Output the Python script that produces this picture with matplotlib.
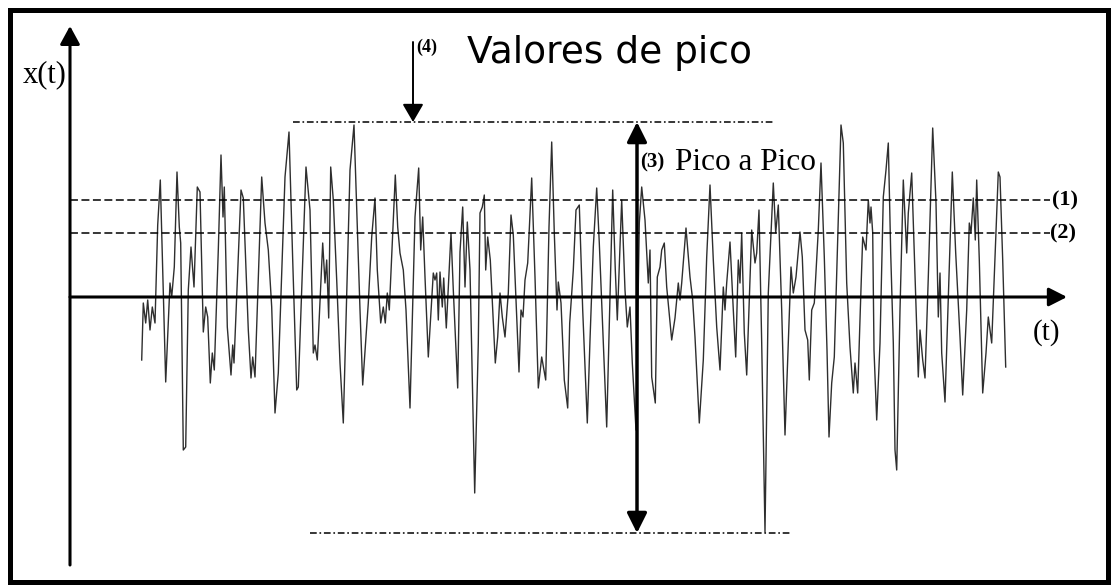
import numpy as np
import matplotlib.pyplot as plt
from matplotlib.patches import Rectangle

# ------------------------------------------------------------------
#  Vibration record x(t): time samples and amplitudes (arbitrary units)
# ------------------------------------------------------------------
t = [71.7, 73.3, 75.7, 77.7, 80, 82.3, 85, 87.7, 90.3, 95.7, 100, 101.7, 104.3,
     107, 109.3, 110.7, 113.3, 115.7, 118.3, 121, 124, 127.3, 130, 133.3, 135.7,
     137.7, 140.3, 142.3, 144.3, 148.3, 151, 153, 154.3, 157.3, 161, 162.7, 164,
     171, 173.3, 178.3, 181, 182.7, 185, 191.7, 195, 198.3, 201.7, 205, 208.3,
     215, 219, 222.7, 226.7, 228.3, 236, 240, 243.3, 245, 247.3, 252.7, 255,
     256.7, 258.7, 260.7, 263.3, 266.7, 270, 273.3, 280, 284, 287.3, 290, 292.7,
     298.3, 301.7, 305, 307.3, 310.7, 313.3, 315.3, 317.3, 319.3, 325.3, 327.7,
     330, 333.3, 336, 340, 345, 348.7, 350.7, 352.7, 355, 358.3,
     363.3, 365, 366.7, 368.3, 370, 372.3, 373.7, 376.3, 381, 383.3, 387.7, 390,
     392.7, 395, 397.3, 400, 404.7, 408.3, 410, 412.3, 414.3, 415.7, 417.7,
     420.3, 425.3, 427.7, 430, 432.3, 435, 438.3, 441, 443.3, 449, 451, 453,
     455, 457.7, 461.7, 465, 468.3, 471.7, 475.7, 479, 481.7, 484.3, 487, 488.3,
     491, 494.3, 497.7, 499.7,
     503.3, 506, 509.3, 512.7, 517.3, 520, 523.3, 526.7, 529.3, 536.7, 540,
     542.7, 545.3, 547.3, 551.7, 555, 557.3, 560, 562.3, 566, 569.3, 571.7, 575,
     578.3, 580, 581.7, 585.3, 587.3, 590, 591.7, 594.3, 596.7, 601.7, 605,
     608.3, 610, 611.7, 616, 620, 622.7, 625, 629.3, 633.3, 636.7, 640, 643.3,
     646.7, 650,
     653.3, 655, 656.7, 660, 663.3, 665.7, 668.3, 670, 671.7, 674.3, 676.7,
     681.7, 685, 686.7, 689, 691.7, 695, 698.3, 703.3, 705.7, 708.3, 711.7, 715,
     718.3, 721, 723.3, 726, 730, 732.3, 735, 737.7, 739.3, 741.7, 744.3, 748.3,
     751, 754.3, 757, 759, 761.7, 764.3, 768.3, 771, 773.3, 776.7, 780, 783.3,
     785, 787.7, 790.3,
     792.7, 796, 798.3, 800, 801, 802.7, 804, 806.7, 810, 813.3, 816, 818.3,
     820.7, 823.3, 825, 826.7, 830, 833.3, 836.7, 838.3, 841.7, 844, 848.3, 850,
     852.7, 855, 858.3, 862.7, 866, 868.3, 870, 871.7, 875, 878.3, 882.3, 885.7,
     890, 892.7, 896.7, 899.3, 901, 903.3, 905.3, 906.7, 909.3, 912.7, 916,
     918.3, 921.7, 928.3, 930, 932.7, 935.7]

x = [-63, -6, -26, -3, -33, -10, -26, 72, 117, -85, 14, 0, 30,
     125, 70, 54, -153, -150, 7, 50, 10, 110, 105, -35, -10,
     -20, -86, -56, -73, 47, 142, 80, 110, -30, -78, -48, -66,
     107, 99, -33, -81, -60, -80, 120, 74, 47, -10, -116, -76,
     120, 165, 37, -93, -90, 130, 87, -56, -48, -63, 54, 14,
     37, -21, 130, 97, 17, -66, -126, 127, 172, 70, -13, -88,
     -6, 60, 99, 27, -26, -10, -26, 4, -13, 122, 70,
     44, 27, -13, -111, 80, 129, 47, 80, 20, -60,
     24, 17, 24, -23, 25, -10, 19, -31, 64, 7, -91, 45,
     90, 10, 75, 27, -196, -46, 84, 90, 102, 27, 60,
     37, -66, -40, 4, -20, -40, 4, 82, 62, -75, -13, -20,
     17, 34, 119, 20, -91, -60, -83, 70, 155, 64, -13, 15,
     -6, -83, -111, -26,
     27, 87, 92, -13, -126, -43, 50, 109, 54, -130, 0,
     107, 27, -23, 97, 7, -30, -10, -66, -133, 74, 110, 77,
     14, 47, -80, -106, 20, 30, 47, 54, 10, -43, -21,
     14, -3, 14, 69, 20, -3, -40, -126, -63, 40, 112, 37,
     -30, -73,
     10, -13, 14, 55, -13, -60, 37, 14, 64, -36, -78,
     67, 34, 44, 87, -46, -235, 4, 114, 64, 92, -13, -138,
     -46, 30, 4, 20, 65, 40, -33, -43, -83, -13, -6, 67,
     134, 40, -53, -140, -86, -60, 80, 172, 154, 14, -50, -96,
     -66, -96, -13,
     60, 47, 97, 74, 90, 64, -53, -123, -46, 100, 127, 154,
     44, -46, -153, -173, -13, 117, 44, 84, 124, 54, -80, -33,
     -63, -81, 20, 169, 94, -20, 24, -56, -105, 0, 125, 44,
     -40, -98, -13, 74, 64, 99, 57, 117, 37, -96, -56,
     -20, -46, 125, 120, 37, -70]

# reference levels (1) and (2), peak levels (dash-dot)
levels = [97, 64]
level_labels = ['(1)', '(2)']
peak_hi = 175
peak_lo = -236

t = np.array(t)
x = np.array(x)

# ------------------------------------------------------------------
fig = plt.figure(figsize=(11.13, 5.85), dpi=100)
ax = fig.add_axes([0, 0, 1, 1])
ax.set_xlim(-70, 1043)
ax.set_ylim(-288, 297)
ax.axis('off')

# outer frame
ax.add_patch(Rectangle((-60, -285), 1098, 572, fill=False, lw=3.6,
                       edgecolor='black', zorder=5))

# signal
ax.plot(t, x, color='#2e2e2e', lw=1.0, zorder=2)

# RMS-type levels
for lev in levels:
    ax.plot([0, 980], [lev, lev], color='black', lw=1.1,
            ls=(0, (5.2, 2.3)), zorder=3)
ax.text(982, levels[0], level_labels[0], fontsize=16, fontweight='bold',
        family='Liberation Serif', ha='left', va='center')
ax.text(980, levels[1], level_labels[1], fontsize=16, fontweight='bold',
        family='Liberation Serif', ha='left', va='center')

# peak levels
dashdot = (0, (4.4, 1.8, 1.1, 1.8))
ax.plot([223, 703], [peak_hi, peak_hi], color='black', lw=1.1, ls=dashdot,
        zorder=3)
ax.plot([240, 722], [peak_lo, peak_lo], color='black', lw=1.1, ls=dashdot,
        zorder=3)

# coordinate axes
ax.annotate('', xy=(0, 271), xytext=(0, -268),
            arrowprops=dict(arrowstyle='-|>,head_length=0.55,head_width=0.3',
                            lw=2.2, color='black', shrinkA=0, shrinkB=0,
                            mutation_scale=20), zorder=4)
ax.annotate('', xy=(997, 0), xytext=(0, 0),
            arrowprops=dict(arrowstyle='-|>,head_length=0.55,head_width=0.28',
                            lw=2.2, color='black', shrinkA=0, shrinkB=0,
                            mutation_scale=20), zorder=4)
ax.text(-47, 215, 'x(t)', fontsize=22, family='Liberation Serif',
        ha='left', va='baseline')
ax.text(963, -36, '(t)', fontsize=21, family='Liberation Serif',
        ha='left', va='center')

# peak-to-peak double arrow
ax.annotate('', xy=(567, peak_hi), xytext=(567, peak_lo),
            arrowprops=dict(arrowstyle='<|-|>,head_length=0.6,head_width=0.3',
                            lw=2.5, color='black', shrinkA=0, shrinkB=0,
                            mutation_scale=20), zorder=4)
ax.text(570, 135, '(3)', fontsize=15, fontweight='bold',
        family='Liberation Serif', ha='left', va='center')
ax.text(605, 127, 'Pico a Pico', fontsize=22.5, family='Liberation Serif',
        ha='left', va='baseline')

# peak value arrow
ax.annotate('', xy=(343, peak_hi), xytext=(343, 255),
            arrowprops=dict(arrowstyle='-|>,head_length=0.55,head_width=0.32',
                            lw=1.4, color='black', shrinkA=0, shrinkB=0,
                            mutation_scale=20), zorder=4)
ax.text(346, 250, '(4)', fontsize=13, fontweight='bold',
        family='Liberation Serif', ha='left', va='center')
ax.text(397, 234, 'Valores de pico', fontsize=27, family='DejaVu Sans',
        ha='left', va='baseline')

fig.savefig('out.png', dpi=100)
